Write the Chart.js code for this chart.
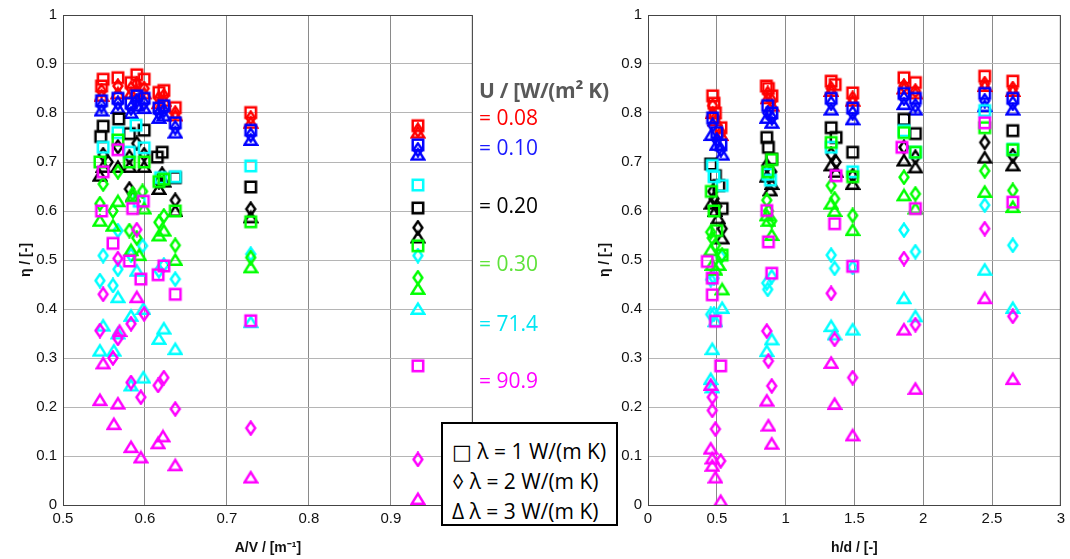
<!DOCTYPE html>
<html>
<head>
<meta charset="utf-8">
<script src="https://cdn.jsdelivr.net/npm/chart.js@4.4.1/dist/chart.umd.min.js"></script>
<style>
  body { margin: 0; background: #fff; width: 1070px; height: 559px; position: relative; overflow: hidden; }
  #left { position: absolute; left: 0; top: 0; }
  #right { position: absolute; left: 585px; top: 0; }
  .utxt { position: absolute; left: 479px; font-family: "Open Sans", "Noto Sans", sans-serif; font-size: 21px; line-height: 24px; white-space: nowrap; }
  #utitle { position: absolute; left: 479px; top: 76px; font-family: "Open Sans", "Noto Sans", sans-serif; font-weight: bold; font-size: 21px; letter-spacing: -0.3px; color: #595959; white-space: nowrap; }
  #lambda { position: absolute; left: 441px; top: 422px; width: 177px; height: 104px; border: 2px solid #000; background: #fff;
            font-family: "Open Sans", "DejaVu Sans", sans-serif; font-size: 21px; line-height: 30px; padding-top: 12px; box-sizing: border-box; padding-left: 9px; white-space: nowrap; }
</style>
</head>
<body>
<canvas id="left" width="482" height="559"></canvas>
<canvas id="right" width="485" height="559"></canvas>
<div id="utitle">U / [W/(m² K)</div>
<div class="utxt" style="top:105px;color:#ff0000">= 0.08</div>
<div class="utxt" style="top:135px;color:#1a1aff">= 0.10</div>
<div class="utxt" style="top:193px;color:#000000">= 0.20</div>
<div class="utxt" style="top:251px;color:#5ee23a">= 0.30</div>
<div class="utxt" style="top:311px;color:#00e5f2">= 71.4</div>
<div class="utxt" style="top:368px;color:#ff00ff">= 90.9</div>
<div id="lambda">□ λ = 1 W/(m K)<br>◊ λ = 2 W/(m K)<br>Δ λ = 3 W/(m K)</div>
<script>
// U values and marker meaning
const uValues = ['0.08', '0.10', '0.20', '0.30', '71.4', '90.9'];
const lambdaValues = [1, 2, 3];
const leftTicks = [0.5, 0.6, 0.7, 0.8, 0.9, 1];
const rightTicks = [0, 0.5, 1, 1.5, 2, 2.5, 3];

// ---- left plot: eta over A/V ----
const avSq008 = [[0.547,0.855],[0.549,0.869],[0.567,0.872],[0.583,0.862],[0.590,0.878],[0.599,0.869],[0.617,0.842],[0.623,0.846],[0.637,0.811],[0.729,0.801],[0.933,0.774]];
const avDi008 = [[0.547,0.845],[0.567,0.855],[0.583,0.85],[0.590,0.86],[0.599,0.85],[0.617,0.83],[0.623,0.835],[0.637,0.80],[0.729,0.79],[0.933,0.765]];
const avTr008 = [[0.547,0.835],[0.567,0.84],[0.583,0.84],[0.590,0.845],[0.599,0.84],[0.617,0.82],[0.623,0.825],[0.637,0.795],[0.729,0.78],[0.933,0.76]];

const avSq010 = [[0.547,0.825],[0.567,0.83],[0.583,0.82],[0.590,0.835],[0.599,0.83],[0.617,0.81],[0.623,0.815],[0.637,0.78],[0.729,0.765],[0.933,0.735]];
const avDi010 = [[0.547,0.815],[0.567,0.82],[0.583,0.81],[0.590,0.825],[0.599,0.82],[0.617,0.80],[0.623,0.805],[0.637,0.77],[0.729,0.755],[0.933,0.725]];
const avTr010 = [[0.547,0.805],[0.567,0.81],[0.583,0.80],[0.590,0.815],[0.599,0.81],[0.617,0.79],[0.623,0.795],[0.637,0.76],[0.729,0.745],[0.933,0.715]];

const avSq020 = [[0.546,0.752],[0.549,0.773],[0.568,0.788],[0.581,0.758],[0.599,0.765],[0.615,0.71],[0.621,0.72],[0.637,0.668],[0.729,0.649],[0.933,0.606]];
const avDi020 = [[0.549,0.715],[0.555,0.70],[0.567,0.731],[0.581,0.645],[0.581,0.71],[0.590,0.738],[0.599,0.715],[0.617,0.66],[0.621,0.675],[0.637,0.622],[0.729,0.604],[0.933,0.566]];
const avTr020 = [[0.545,0.672],[0.549,0.69],[0.567,0.69],[0.581,0.69],[0.585,0.63],[0.599,0.69],[0.617,0.645],[0.623,0.66],[0.637,0.60],[0.729,0.587],[0.933,0.546]];

const avSq030 = [[0.545,0.70],[0.567,0.745],[0.581,0.70],[0.599,0.70],[0.617,0.66],[0.623,0.665],[0.637,0.60],[0.729,0.578],[0.933,0.529]];
const avDi030 = [[0.545,0.615],[0.549,0.655],[0.561,0.60],[0.567,0.68],[0.581,0.56],[0.585,0.635],[0.590,0.545],[0.597,0.64],[0.617,0.577],[0.623,0.59],[0.637,0.53],[0.729,0.505],[0.933,0.464]];
const avTr030 = [[0.545,0.58],[0.561,0.57],[0.567,0.62],[0.583,0.52],[0.585,0.63],[0.593,0.51],[0.599,0.605],[0.617,0.55],[0.623,0.56],[0.637,0.50],[0.729,0.485],[0.933,0.441]];

const avSq714 = [[0.549,0.73],[0.567,0.76],[0.581,0.72],[0.589,0.775],[0.593,0.62],[0.599,0.729],[0.619,0.668],[0.637,0.67],[0.729,0.692],[0.933,0.653]];
const avDi714 = [[0.545,0.458],[0.549,0.509],[0.561,0.448],[0.567,0.481],[0.567,0.56],[0.583,0.51],[0.597,0.529],[0.617,0.478],[0.623,0.49],[0.637,0.461],[0.729,0.512],[0.933,0.509]];
const avTr714 = [[0.545,0.315],[0.549,0.366],[0.562,0.315],[0.567,0.35],[0.567,0.424],[0.583,0.386],[0.583,0.244],[0.590,0.478],[0.598,0.40],[0.598,0.26],[0.617,0.339],[0.623,0.36],[0.637,0.318],[0.729,0.373],[0.933,0.40]];

const avSq909 = [[0.547,0.60],[0.549,0.68],[0.561,0.534],[0.567,0.725],[0.581,0.498],[0.585,0.605],[0.595,0.461],[0.598,0.62],[0.616,0.47],[0.623,0.488],[0.637,0.43],[0.729,0.376],[0.933,0.284]];
const avDi909 = [[0.545,0.356],[0.549,0.43],[0.561,0.30],[0.567,0.34],[0.567,0.503],[0.583,0.37],[0.583,0.25],[0.590,0.562],[0.595,0.22],[0.599,0.39],[0.616,0.244],[0.623,0.26],[0.637,0.196],[0.729,0.157],[0.933,0.093]];
const avTr909 = [[0.545,0.214],[0.549,0.289],[0.562,0.165],[0.567,0.207],[0.569,0.355],[0.583,0.118],[0.590,0.424],[0.595,0.097],[0.616,0.126],[0.622,0.140],[0.637,0.081],[0.729,0.056],[0.933,0.012]];

// ---- right plot: eta over h/d ----
const hdSq008 = [[0.47,0.835],[0.48,0.82],[0.49,0.80],[0.53,0.77],[0.86,0.855],[0.875,0.85],[0.90,0.835],[1.331,0.865],[1.36,0.858],[1.487,0.841],[1.86,0.872],[1.943,0.862],[2.447,0.875],[2.651,0.865]];
const hdDi008 = [[0.47,0.815],[0.49,0.79],[0.53,0.76],[0.87,0.84],[0.90,0.825],[1.331,0.85],[1.487,0.83],[1.86,0.855],[1.943,0.845],[2.447,0.86],[2.651,0.85]];
const hdTr008 = [[0.47,0.80],[0.49,0.785],[0.53,0.755],[0.87,0.83],[0.90,0.815],[1.331,0.845],[1.487,0.825],[1.86,0.85],[1.943,0.84],[2.447,0.855],[2.651,0.845]];

const hdSq010 = [[0.47,0.79],[0.50,0.76],[0.53,0.735],[0.87,0.815],[0.90,0.80],[1.331,0.83],[1.487,0.81],[1.86,0.84],[1.943,0.83],[2.447,0.84],[2.651,0.83]];
const hdDi010 = [[0.47,0.775],[0.50,0.745],[0.53,0.725],[0.87,0.80],[0.90,0.79],[1.331,0.82],[1.487,0.80],[1.86,0.83],[1.943,0.815],[2.447,0.825],[2.651,0.82]];
const hdTr010 = [[0.46,0.755],[0.50,0.735],[0.54,0.715],[0.863,0.79],[0.90,0.78],[1.331,0.807],[1.487,0.787],[1.86,0.818],[1.943,0.807],[2.447,0.814],[2.651,0.807]];

const hdSq020 = [[0.456,0.696],[0.49,0.672],[0.515,0.652],[0.539,0.605],[0.863,0.75],[0.875,0.73],[0.899,0.706],[1.331,0.77],[1.367,0.75],[1.487,0.72],[1.86,0.787],[1.943,0.758],[2.651,0.764]];
const hdDi020 = [[0.47,0.64],[0.48,0.625],[0.50,0.61],[0.539,0.564],[0.863,0.693],[0.899,0.68],[1.331,0.716],[1.367,0.70],[1.487,0.672],[1.86,0.73],[1.943,0.71],[2.447,0.74],[2.651,0.713]];
const hdTr020 = [[0.46,0.615],[0.49,0.60],[0.51,0.585],[0.539,0.544],[0.863,0.67],[0.888,0.642],[0.899,0.655],[1.331,0.693],[1.367,0.68],[1.487,0.655],[1.86,0.703],[1.943,0.689],[2.447,0.709],[2.651,0.693]];

const hdSq030 = [[0.46,0.64],[0.48,0.60],[0.50,0.56],[0.539,0.51],[0.87,0.68],[0.899,0.705],[1.331,0.74],[1.487,0.67],[1.86,0.76],[1.943,0.72],[2.447,0.77],[2.651,0.725]];
const hdDi030 = [[0.456,0.557],[0.467,0.545],[0.49,0.53],[0.539,0.51],[0.863,0.622],[0.875,0.60],[0.899,0.58],[1.331,0.652],[1.356,0.625],[1.487,0.591],[1.86,0.669],[1.943,0.635],[2.447,0.682],[2.651,0.642]];
const hdTr030 = [[0.456,0.52],[0.467,0.49],[0.49,0.48],[0.515,0.49],[0.539,0.44],[0.863,0.591],[0.875,0.58],[0.899,0.551],[1.331,0.615],[1.356,0.60],[1.487,0.561],[1.86,0.632],[1.943,0.605],[2.447,0.639],[2.651,0.608]];

const hdSq714 = [[0.467,0.693],[0.48,0.67],[0.539,0.652],[0.87,0.675],[0.89,0.663],[1.331,0.73],[1.487,0.68],[1.86,0.764],[1.943,0.72],[2.447,0.805],[2.651,0.726]];
const hdDi714 = [[0.456,0.46],[0.48,0.463],[0.528,0.507],[0.456,0.389],[0.48,0.39],[0.863,0.453],[0.87,0.44],[0.899,0.466],[1.331,0.51],[1.356,0.483],[1.487,0.485],[1.86,0.561],[1.943,0.517],[2.447,0.612],[2.651,0.53]];
const hdTr714 = [[0.456,0.257],[0.467,0.318],[0.467,0.24],[0.49,0.375],[0.539,0.402],[0.863,0.314],[0.899,0.338],[1.331,0.365],[1.356,0.348],[1.487,0.358],[1.86,0.422],[1.943,0.385],[2.447,0.48],[2.651,0.402]];

const hdSq909 = [[0.431,0.497],[0.467,0.463],[0.467,0.429],[0.49,0.375],[0.528,0.284],[0.863,0.601],[0.875,0.537],[0.899,0.473],[1.356,0.574],[1.367,0.672],[1.487,0.487],[1.845,0.73],[1.943,0.605],[2.447,0.78],[2.651,0.618]];
const hdDi909 = [[0.467,0.22],[0.467,0.193],[0.49,0.155],[0.528,0.09],[0.863,0.355],[0.875,0.294],[0.899,0.243],[1.331,0.432],[1.356,0.338],[1.487,0.26],[1.86,0.503],[1.943,0.368],[2.447,0.564],[2.651,0.385]];
const hdTr909 = [[0.456,0.115],[0.456,0.245],[0.467,0.095],[0.467,0.08],[0.49,0.056],[0.528,0.008],[0.863,0.213],[0.875,0.162],[0.899,0.125],[1.331,0.29],[1.356,0.206],[1.487,0.142],[1.86,0.358],[1.943,0.237],[2.447,0.422],[2.651,0.257]];

// colours per U value, drawn in this order (magenta at the bottom)
const colors = { '90.9': '#ff00ff', '0.30': '#00ff00', '71.4': '#00ffff', '0.20': '#000000', '0.10': '#0000ff', '0.08': '#ff0000' };
const leftSeries = [
  ['90.9', avSq909, avDi909, avTr909], ['0.30', avSq030, avDi030, avTr030], ['71.4', avSq714, avDi714, avTr714],
  ['0.20', avSq020, avDi020, avTr020], ['0.10', avSq010, avDi010, avTr010], ['0.08', avSq008, avDi008, avTr008]
];
const rightSeries = [
  ['90.9', hdSq909, hdDi909, hdTr909], ['0.30', hdSq030, hdDi030, hdTr030], ['71.4', hdSq714, hdDi714, hdTr714],
  ['0.20', hdSq020, hdDi020, hdTr020], ['0.10', hdSq010, hdDi010, hdTr010], ['0.08', hdSq008, hdDi008, hdTr008]
];

function makeMarker(shape, color) {
  const c = document.createElement('canvas');
  c.width = 16; c.height = 16;
  const g = c.getContext('2d');
  g.strokeStyle = color;
  g.lineWidth = 2.5;
  g.lineJoin = 'miter';
  g.beginPath();
  if (shape === 0) g.rect(2.75, 2.75, 10.5, 10.5);
  else if (shape === 1) { g.moveTo(8, 1.6); g.lineTo(12.4, 8); g.lineTo(8, 14.4); g.lineTo(3.6, 8); g.closePath(); }
  else { g.moveTo(8, 2.6); g.lineTo(14.3, 12.8); g.lineTo(1.7, 12.8); g.closePath(); }
  g.stroke();
  return c;
}

function buildDatasets(series) {
  const out = [];
  series.forEach(([u, sq, di, tr]) => {
    [sq, di, tr].forEach((arr, i) => {
      out.push({
        label: 'U=' + u + ' lambda=' + lambdaValues[i],
        data: arr.map(p => ({ x: p[0], y: p[1] })),
        pointStyle: makeMarker(i, colors[u]),
        pointRadius: 6,
        showLine: false
      });
    });
  });
  return out;
}

const tickFont = { family: 'Liberation Sans, Arial, sans-serif', size: 15 };
const titleFont = { family: 'Liberation Sans, Arial, sans-serif', size: 14, weight: 'bold' };
const fmt = v => String(+v.toFixed(2));

// box around plot area
const frame = {
  id: 'frame',
  afterDraw(chart) {
    const a = chart.chartArea, ctx = chart.ctx;
    ctx.save();
    ctx.strokeStyle = '#444';
    ctx.lineWidth = 1;
    ctx.strokeRect(a.left + 0.5, a.top + 0.5, a.right - a.left - 1, a.bottom - a.top);
    ctx.restore();
  }
};

function makeChart(id, datasets, xMin, xMax, xStep, xTitle, yTitlePad, padding) {
  return new Chart(document.getElementById(id), {
    type: 'scatter',
    data: { datasets },
    options: {
      responsive: false,
      animation: false,
      devicePixelRatio: 1,
      layout: { padding },
      plugins: { legend: { display: false }, tooltip: { enabled: false } },
      scales: {
        x: {
          type: 'linear', min: xMin, max: xMax,
          ticks: { stepSize: xStep, callback: fmt, font: tickFont, color: '#111', padding: 5, maxRotation: 0 },
          grid: { color: '#8a8a8a', drawTicks: false },
          border: { color: '#444' },
          title: { display: true, text: xTitle, font: titleFont, color: '#111', padding: { top: 4, bottom: 2 } },
          afterFit: s => { s.height = 54; }
        },
        y: {
          type: 'linear', min: 0, max: 1,
          ticks: { stepSize: 0.1, callback: fmt, font: tickFont, color: '#111', padding: 6 },
          grid: { color: '#b5b5b5', drawTicks: false },
          border: { color: '#444' },
          title: { display: true, text: 'η / [-]', font: titleFont, color: '#111', padding: { top: yTitlePad, bottom: 0 } },
          afterFit: s => { s.width = 63; }
        }
      }
    },
    plugins: [frame]
  });
}

makeChart('left', buildDatasets(leftSeries), 0.5, 1, 0.1, 'A/V / [m⁻¹]', 18, { left: 0, right: 4, top: 14, bottom: 0 });
makeChart('right', buildDatasets(rightSeries), 0, 3, 0.5, 'h/d / [-]', 12, { left: 0, right: 5, top: 12, bottom: 0 });
</script>
</body>
</html>
